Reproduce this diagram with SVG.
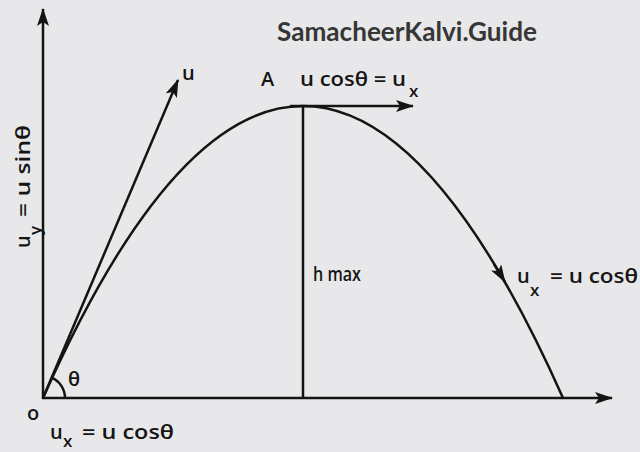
<svg xmlns="http://www.w3.org/2000/svg" width="640" height="452" viewBox="0 0 640 452">
<defs>
<style>
.ln{stroke:#141414;stroke-width:2.5;fill:none}
.t{font-family:"Open Sans","Liberation Sans",Arial,sans-serif;font-weight:600;font-size:20px;fill:#151515}
.sub{font-size:17px}
.wm{font-family:Lato,"Open Sans",sans-serif;font-weight:bold;font-size:26px;fill:#363636}
</style>
<marker id="ah" markerUnits="userSpaceOnUse" markerWidth="20" markerHeight="14" refX="17" refY="6" orient="auto">
<path d="M0,0 L18,6 L0,12 L4,6 Z" fill="#141414"/>
</marker>
</defs>
<rect width="640" height="452" fill="#e8e8ea"/>
<text id="watermark" class="wm" x="277" y="41" textLength="260" lengthAdjust="spacingAndGlyphs">SamacheerKalvi.Guide</text>
<g id="connectors">
<line id="y-axis" class="ln" x1="43" y1="399" x2="43" y2="9" marker-end="url(#ah)"/>
<line id="x-axis" class="ln" x1="42" y1="398" x2="612" y2="398" marker-end="url(#ah)"/>
<line id="u-vector" class="ln" x1="43" y1="398" x2="178" y2="80" marker-end="url(#ah)"/>
<path id="trajectory" class="ln" d="M43,398 Q303,-186 563,398"/>
<line id="top-vector" class="ln" x1="290" y1="106" x2="413" y2="106" marker-end="url(#ah)"/>
<line id="hmax-line" class="ln" x1="303" y1="106" x2="303" y2="398" stroke-width="2.2"/>
<line id="descent-arrow" class="ln" x1="494" y1="264" x2="505" y2="282" marker-end="url(#ah)"/>
<path id="angle-arc" class="ln" d="M65,398 A22,22 0 0 0 51.6,377.7" stroke-width="2.2"/>
</g>
<g id="origin-label"><text class="t" x="27" y="420">o</text></g>
<g id="theta-label"><text class="t" x="68" y="386" font-size="21">θ</text></g>
<g id="u-label"><text class="t" x="182" y="80">u</text></g>
<g id="apex-label">
<text class="t" x="261" y="86">A</text>
<text class="t" x="300" y="86" textLength="106" lengthAdjust="spacingAndGlyphs">u cosθ = u</text>
<text class="t sub" x="409" y="97">x</text>
</g>
<g id="hmax-label"><text class="t" x="313" y="281" font-size="15" textLength="48" lengthAdjust="spacingAndGlyphs">h max</text></g>
<g id="right-label">
<text class="t" x="517" y="283">u</text>
<text class="t sub" x="530" y="296">x</text>
<text class="t" x="550" y="283" textLength="88" lengthAdjust="spacingAndGlyphs">= u cosθ</text>
</g>
<g id="bottom-label">
<text class="t" x="50" y="439">u</text>
<text class="t sub" x="63" y="447">x</text>
<text class="t" x="82" y="439" textLength="92" lengthAdjust="spacingAndGlyphs">= u cosθ</text>
</g>
<g id="vertical-label" transform="translate(30,248) rotate(-90)">
<text class="t" x="0" y="0">u</text>
<text class="t sub" x="13" y="11">y</text>
<text class="t" x="31" y="0" textLength="92" lengthAdjust="spacingAndGlyphs">= u sinθ</text>
</g>
</svg>
